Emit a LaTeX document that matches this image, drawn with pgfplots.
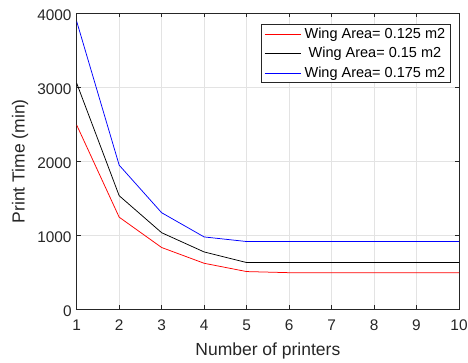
\documentclass[border=0pt]{standalone}
\usepackage{fontspec}
\setmainfont{Liberation Sans}
\usepackage{pgfplots}
\pgfplotsset{compat=1.18}
\definecolor{axgray}{gray}{0.15}
\definecolor{lineblue}{rgb}{0,0,1}
\definecolor{linered}{rgb}{1,0,0}
\begin{document}
\begin{tikzpicture}
\path[use as bounding box] (-76.7pt,-52.7pt) rectangle (391.3pt,309.3pt);
\begin{axis}[
  at={(0,0)}, anchor=south west,
  scale only axis, width=382.3pt, height=296pt,
  xmin=1, xmax=10, ymin=0, ymax=4000,
  xtick={1,2,...,10}, ytick={0,1000,2000,3000,4000},
  grid=major, major grid style={gray!22, line width=0.5pt},
  tick align=inside, major tick length=4pt,
  axis line style={axgray, line width=0.6pt}, tick style={axgray, line width=0.5pt},
  /pgf/number format/assume math mode=true,
  scaled y ticks=false,
  yticklabel style={/pgf/number format/1000 sep={}, xshift=-1.6pt, yshift=-2pt},
  xticklabel style={yshift=-7pt},
  ticklabel style={font=\fontsize{15.4}{17}\selectfont, text=axgray},
  label style={font=\fontsize{17.5}{19}\selectfont, text=axgray},
  xlabel={Number of printers},
  ylabel={Print Time (min)},
  xlabel style={at={(axis description cs:0.5,0)}, anchor=center, yshift=-41.3pt},
  ylabel style={at={([xshift=-56.7pt]axis description cs:0,0.5)}, anchor=center},
  legend style={at={(0.979,0.964)}, anchor=north east, draw=axgray, line width=0.5pt,
    font=\fontsize{14.5}{16}\selectfont, row sep=3.5pt, column sep=1.5pt,
    inner xsep=3.5pt, inner ysep=1.75pt,
    nodes={inner sep=2pt},
    cells={anchor=center}},
  legend image code/.code={\draw[#1] (0pt,0pt) -- (36pt,0pt);},
]
\addlegendimage{linered, line width=0.75pt}
\addlegendentry{Wing Area= 0.125 m2}
\addlegendimage{black, line width=0.75pt}
\addlegendentry{Wing Area= 0.15 m2}
\addlegendimage{lineblue, line width=0.75pt}
\addlegendentry{Wing Area= 0.175 m2}
\addplot[linered, line width=0.75pt, forget plot] coordinates {(1,2490) (2,1245) (3,835) (4,622) (5,510) (6,495) (7,495) (8,495) (9,495) (10,495)};
\addplot[black, line width=0.75pt, forget plot] coordinates {(1,3055) (2,1535) (3,1035) (4,775) (5,632) (6,632) (7,632) (8,632) (9,632) (10,632)};
\addplot[lineblue, line width=0.75pt, forget plot] coordinates {(1,3890) (2,1948) (3,1305) (4,978) (5,916) (6,916) (7,916) (8,916) (9,916) (10,916)};
\end{axis}
\end{tikzpicture}
\end{document}
